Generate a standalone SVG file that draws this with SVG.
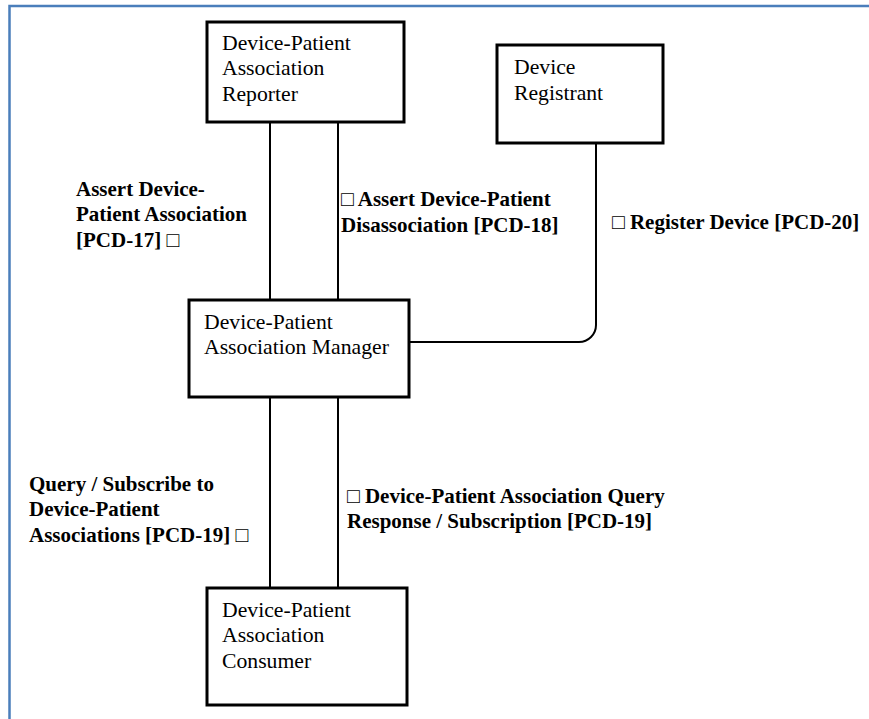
<svg xmlns="http://www.w3.org/2000/svg" width="869" height="719" viewBox="0 0 869 719">
<defs>
<style>
.box{fill:#fff;stroke:#000;stroke-width:3}
.conn{fill:none;stroke:#000;stroke-width:2}
</style>
</defs>
<rect x="0" y="0" width="869" height="719" fill="#fff"/>
<rect x="9.5" y="6" width="900" height="760" fill="none" stroke="#4a7ebb" stroke-width="2.5"/>
<g id="connectors">
<line class="conn" x1="270" y1="122" x2="270" y2="300"/>
<line class="conn" x1="338" y1="122" x2="338" y2="300"/>
<line class="conn" x1="270" y1="397" x2="270" y2="588"/>
<line class="conn" x1="338" y1="397" x2="338" y2="588"/>
<path class="conn" d="M596,143 V325 A17,17 0 0 1 579,342 H409"/>
</g>
<g font-family="Liberation Serif, Times New Roman, serif" font-size="21.7" fill="#000">
<g id="reporter">
<rect class="box" x="207" y="22" width="197" height="100"/>
<text x="222" y="50">Device-Patient</text>
<text x="222" y="75">Association</text>
<text x="222" y="101">Reporter</text>
</g>
<g id="registrant">
<rect class="box" x="497" y="45" width="166" height="98"/>
<text x="514" y="74">Device</text>
<text x="514" y="100">Registrant</text>
</g>
<g id="manager">
<rect class="box" x="189" y="300" width="220" height="97"/>
<text x="204" y="329">Device-Patient</text>
<text x="204" y="354">Association Manager</text>
</g>
<g id="consumer">
<rect class="box" x="207" y="588" width="200" height="117"/>
<text x="222" y="617">Device-Patient</text>
<text x="222" y="642">Association</text>
<text x="222" y="668">Consumer</text>
</g>
</g>
<g id="labels" font-family="Liberation Serif, Times New Roman, DejaVu Serif, serif" font-size="21" font-weight="bold" fill="#000">
<text x="76" y="196">Assert Device-</text>
<text x="76" y="221">Patient Association</text>
<text x="76" y="247">[PCD-17] □</text>
<text x="341" y="206">□  Assert Device-Patient</text>
<text x="341" y="232">Disassociation [PCD-18]</text>
<text x="612" y="229">□ Register Device [PCD-20]</text>
<text x="29" y="491">Query / Subscribe to</text>
<text x="29" y="516">Device-Patient</text>
<text x="29" y="542">Associations [PCD-19] □</text>
<text x="347" y="503">□ Device-Patient Association Query</text>
<text x="347" y="528">Response / Subscription [PCD-19]</text>
</g>
</svg>
